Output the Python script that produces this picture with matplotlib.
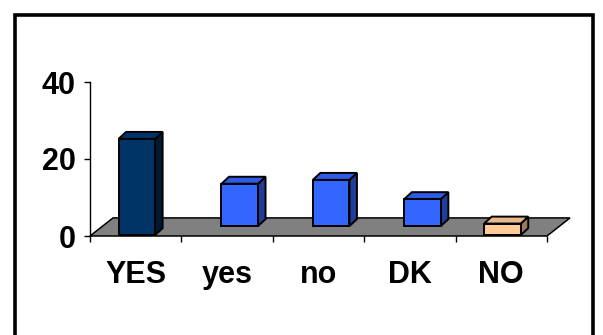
import matplotlib
matplotlib.use("Agg")
import matplotlib.pyplot as plt
from matplotlib.patches import Polygon, Rectangle

plt.rcParams["font.family"] = ["Liberation Sans", "DejaVu Sans"]
plt.rcParams["font.weight"] = "bold"

categories = ["YES", "yes", "no", "DK", "NO"]
values = [25, 11, 12, 7, 3]
# how far back on the floor each column stands (0 = front edge, 1 = back edge)
depth_pos = [0.05, 0.55, 0.55, 0.55, 0.05]
front_colors = ["#003366", "#3366FF", "#3366FF", "#3366FF", "#FFCC99"]
top_colors = ["#00336B", "#2E5CE6", "#2E5CE6", "#2E5CE6", "#E6B88A"]
side_colors = ["#001A33", "#1F3D99", "#1F3D99", "#1F3D99", "#997A5C"]
yticks = [0, 20, 40]

W, H = 603, 335
fig = plt.figure(figsize=(W / 100, H / 100), dpi=100)
ax = fig.add_axes([90 / W, (H - 236) / H, 457 / W, 154 / H])
ax.set_xlim(0, len(categories))
ax.set_ylim(0, 40)

# 3-D look: floor depth and column depth in data units
floor_dx, floor_dy = 0.252, 4.7
bar_w = 0.40
bar_dx, bar_dy = 0.082, 1.8
edge_lw = 1.4

n = len(categories)
floor = Polygon([(0, 0), (n, 0), (n + floor_dx, floor_dy), (floor_dx, floor_dy)],
                closed=True, facecolor="#808080", edgecolor="black", lw=1.1,
                clip_on=False, zorder=1)
ax.add_patch(floor)

for i, v in enumerate(values):
    d = depth_pos[i]
    x0 = i + 0.5 + d * floor_dx - bar_w / 2
    y0 = d * floor_dy
    x1 = x0 + bar_w
    top = y0 + v
    side = Polygon([(x1, y0), (x1 + bar_dx, y0 + bar_dy),
                    (x1 + bar_dx, top + bar_dy), (x1, top)],
                   closed=True, facecolor=side_colors[i], edgecolor="black",
                   lw=edge_lw, clip_on=False, zorder=3)
    lid = Polygon([(x0, top), (x1, top), (x1 + bar_dx, top + bar_dy),
                   (x0 + bar_dx, top + bar_dy)],
                  closed=True, facecolor=top_colors[i], edgecolor="black",
                  lw=edge_lw, clip_on=False, zorder=3)
    face = Rectangle((x0, y0), bar_w, v, facecolor=front_colors[i],
                     edgecolor="black", lw=edge_lw, clip_on=False, zorder=4)
    ax.add_patch(side)
    ax.add_patch(lid)
    ax.add_patch(face)

for s in ["top", "right", "bottom"]:
    ax.spines[s].set_visible(False)
ax.spines["left"].set_linewidth(1.0)
ax.spines["left"].set_zorder(0)
ax.patch.set_visible(False)

ax.set_yticks(yticks)
ax.set_yticklabels([str(t) for t in yticks], fontsize=22, fontweight="bold")
ax.tick_params(axis="y", length=4.5, width=1.0, pad=6)

ax.set_xticks(range(n + 1))
ax.set_xticklabels([])
ax.tick_params(axis="x", which="major", length=4.5, width=1.0)
ax.set_xticks([i + 0.5 for i in range(n)], categories, minor=True)
ax.tick_params(axis="x", which="minor", length=0, pad=17, labelsize=22)
for lbl in ax.get_xticklabels(minor=True):
    lbl.set_fontweight("bold")

# chart frame
fig.patches.append(Rectangle((14.5 / W, -0.2), (593 - 14.5) / W, 1.2 - 14.5 / H,
                             transform=fig.transFigure, fill=False,
                             edgecolor="black", lw=2.6))

fig.savefig("out.png", dpi=100, facecolor="white")
